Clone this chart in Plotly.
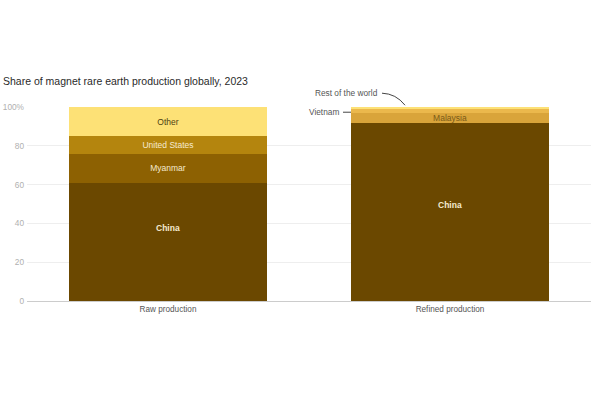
import plotly.graph_objects as go

categories = ["Raw production", "Refined production"]
china = [61, 92]
myanmar = [15, None]
united_states = [9, None]
other = [15, None]
malaysia = [None, 5]
vietnam = [None, 2]
rest_of_world = [None, 1]

tick_vals = [0, 20, 40, 60, 80, 100]
tick_text = ["0", "20", "40", "60", "80", "100%"]

FONT = "Liberation Sans, Arial, sans-serif"

series = [
    ("China", china, "#6b4800", "#f6ead0"),
    ("Myanmar", myanmar, "#8d6102", "#f6ead0"),
    ("United States", united_states, "#b4850e", "#f6ead0"),
    ("Other", other, "#fde176", "#4f3f12"),
    ("Malaysia", malaysia, "#d9a43a", "#7a5a18"),
    ("Vietnam", vietnam, "#ebb84c", "#7a5a18"),
    ("Rest of the world", rest_of_world, "#fde176", "#7a5a18"),
]
inside_labels = ("Myanmar", "United States", "Other", "Malaysia")

fig = go.Figure()
for name, vals, color, tcol in series:
    texts = [name if (v is not None and name in inside_labels) else "" for v in vals]
    fig.add_trace(go.Bar(
        x=categories, y=vals, name=name,
        marker=dict(color=color, line=dict(width=0)),
        text=texts, textposition="inside", insidetextanchor="middle",
        textangle=0, constraintext="none",
        textfont=dict(color=tcol, size=8.5, family=FONT),
        hoverinfo="skip",
    ))

# helper: convert pixel -> paper coords
L, R, T, B = 27, 591, 107.3, 301
def px(x):
    return (x - L) / (R - L)
def py(y):
    return (B - y) / (B - T)

china_label_y = [37.7, 49.5]
annotations = [
    dict(text="<b>China</b>", x=cat, y=yy, xref="x", yref="y",
         showarrow=False, font=dict(size=8.5, color="#f6ead0", family=FONT))
    for cat, yy in zip(categories, china_label_y)
]
annotations += [
    dict(text="Vietnam", xref="paper", yref="paper",
         x=px(341), y=py(112.5), xanchor="right", yanchor="middle",
         showarrow=False, font=dict(size=8.3, color="#555", family=FONT)),
    dict(text="Rest of the world", xref="paper", yref="paper",
         x=px(380), y=py(93.5), xanchor="right", yanchor="middle",
         showarrow=False, font=dict(size=8.3, color="#555", family=FONT)),
]

fig.update_layout(
    barmode="stack",
    bargap=0.298,
    width=600, height=400,
    margin=dict(l=L, r=600 - R, t=T, b=400 - B, pad=0, autoexpand=False),
    paper_bgcolor="white", plot_bgcolor="white",
    showlegend=False,
    font=dict(family=FONT, color="#444"),
    title=dict(
        text="Share of magnet rare earth production globally, 2023",
        x=0.005, xanchor="left", y=1 - 81 / 400, yanchor="middle",
        font=dict(size=10.5, color="#2a2a2a", family=FONT),
    ),
    xaxis=dict(
        showgrid=False, showline=True, linecolor="#cccccc", linewidth=1,
        ticks="", tickfont=dict(size=8.2, color="#555"),
    ),
    yaxis=dict(
        range=[0, 100], tickvals=tick_vals, ticktext=tick_text,
        showgrid=True, gridcolor="#eeeeee", gridwidth=1,
        zeroline=False, showline=False, ticks="",
        tickfont=dict(size=8.3, color="#b0b0b0"),
        ticklabelstandoff=2,
    ),
    annotations=annotations,
    shapes=[
        dict(type="line", xref="paper", yref="paper",
             x0=px(343), x1=px(351), y0=py(112.5), y1=py(112.5),
             line=dict(color="#444", width=1)),
        dict(type="path", xref="paper", yref="paper",
             path=f"M {px(382)},{py(93.5)} Q {px(396)},{py(94)} {px(405)},{py(105.5)}",
             line=dict(color="#444", width=1)),
    ],
)

fig.write_html(
    "out.html",
    config={"displayModeBar": False},
    post_script="document.body.style.margin='0';document.body.style.padding='0';",
)
